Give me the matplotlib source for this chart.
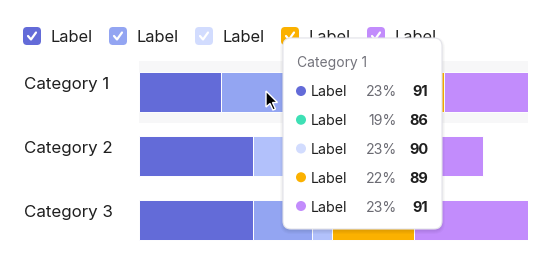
import numpy as np
import matplotlib
matplotlib.use("Agg")
import matplotlib.pyplot as plt
from matplotlib import transforms
from matplotlib.patches import FancyBboxPatch, Circle, Polygon
from matplotlib.lines import Line2D

plt.rcParams['font.family'] = ['Inter', 'DejaVu Sans']

# datos del grafico
categories = ['Category 1', 'Category 2', 'Category 3']
series_labels = ['Label', 'Label', 'Label', 'Label', 'Label']
series_colors = ['#636bd8', '#93a5f2', '#b2c1fb', '#fbb100', '#c28cfc']
legend_colors = ['#636bd8', '#93a5f2', '#d2dcfe', '#fbb100', '#c28cfc']
values = np.array([
    [21.2, 20.0, 12.0, 25.3, 21.5],
    [29.4, 0.0, 18.0, 22.0, 19.0],
    [29.4, 15.2, 4.9, 21.1, 29.4],
])
x_max = 100

# tooltip
tip_title = 'Category 1'
tip_labels = ['Label', 'Label', 'Label', 'Label', 'Label']
tip_colors = ['#636bd8', '#3ee0b5', '#d2dcfe', '#fbb100', '#c28cfc']
tip_pcts = ['23%', '19%', '23%', '22%', '23%']
tip_values = [91, 86, 90, 89, 91]

W, H = 552, 264
fig = plt.figure(figsize=(W / 100, H / 100), dpi=100)
# pixeles desde arriba a la izquierda
px = transforms.Affine2D().scale(1 / W, -1 / H).translate(0, 1) + fig.transFigure

ax = fig.add_axes([139 / W, 1 - 252 / H, 389 / W, 192 / H])
ax.set_xlim(0, x_max)
ax.set_ylim(len(categories) - 0.5, -0.5)
ax.axis('off')

# fila resaltada
ax.axhspan(-0.485, 0.485, color='#f7f7f8', zorder=0, lw=0)

y = np.arange(len(categories))
left = np.zeros(len(categories))
for j in range(values.shape[1]):
    ax.barh(y, values[:, j], left=left, height=0.625, color=series_colors[j],
            edgecolor='white', linewidth=0.7, zorder=2)
    left += values[:, j]

lab_tr = transforms.blended_transform_factory(fig.transFigure, ax.transData)
for i, c in enumerate(categories):
    ax.text(24 / W, i - 0.125, c, transform=lab_tr, ha='left', va='center',
            fontsize=12.2, color='#1f1f1f')

# leyenda con casillas
for i, lab in enumerate(series_labels):
    x0 = 23 + 86 * i
    box = FancyBboxPatch((x0, 27), 18, 18, boxstyle='round,pad=0,rounding_size=4',
                         transform=px, fc=legend_colors[i], ec='none', zorder=2)
    fig.add_artist(box)
    fig.add_artist(Line2D([x0 + 5, x0 + 8, x0 + 13], [36, 39.5, 32.5], transform=px,
                          color='white', lw=1.6, solid_capstyle='round',
                          solid_joinstyle='round', zorder=3))
    fig.text(x0 + 27.5, 36, lab, transform=px, ha='left', va='center_baseline',
             fontsize=11.8, color='#1f1f1f', zorder=3)

# caja del tooltip
tx, ty, tw, th = 283, 38, 159, 191
for k in range(4):
    sh = FancyBboxPatch((tx - k, ty - k + 2), tw + 2 * k, th + 2 * k,
                        boxstyle='round,pad=0,rounding_size=%d' % (8 + k),
                        transform=px, fc='black', ec='none', alpha=0.025, zorder=9)
    fig.add_artist(sh)
fig.add_artist(FancyBboxPatch((tx, ty), tw, th, boxstyle='round,pad=0,rounding_size=8',
                              transform=px, fc='white', ec='#e4e4ea', lw=0.8, zorder=10))
fig.text(297, 62, tip_title, transform=px, ha='left', va='center_baseline',
         fontsize=10, color='#74747c', zorder=11)
for i in range(len(tip_labels)):
    yc = 91 + 28.75 * i
    fig.add_artist(Circle((301, yc), 5, transform=px, fc=tip_colors[i], ec='none', zorder=11))
    fig.text(311, yc, tip_labels[i], transform=px, ha='left', va='center_baseline',
             fontsize=10.2, color='#1f1f1f', zorder=11)
    fig.text(397, yc, tip_pcts[i], transform=px, ha='right', va='center_baseline',
             fontsize=10.2, color='#6b6b73', zorder=11)
    fig.text(428, yc, str(tip_values[i]), transform=px, ha='right', va='center_baseline',
             fontsize=10.5, fontweight='bold', color='#1f1f1f', zorder=11)

# puntero del raton
cx, cy = 266, 91
cur = np.array([[0, 0], [0, 16], [4, 12.5], [7, 19], [9.5, 18], [6.5, 11.5], [11.5, 11.5]])
fig.add_artist(Polygon(cur + [cx, cy], closed=True, transform=px, fc='black',
                       ec='white', lw=1, zorder=8))

fig.savefig('out.png', dpi=100)
